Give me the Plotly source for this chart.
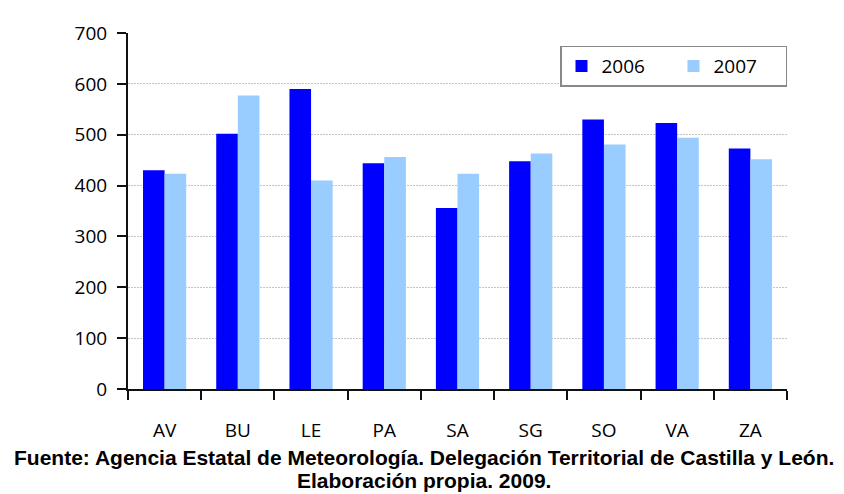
import plotly.graph_objects as go

categories = ["AV", "BU", "LE", "PA", "SA", "SG", "SO", "VA", "ZA"]
values_2006 = [430, 502, 590, 444, 356, 448, 530, 523, 473]
values_2007 = [423, 577, 410, 456, 423, 463, 481, 494, 452]
y_ticks = [0, 100, 200, 300, 400, 500, 600, 700]

tick_font = dict(family="Open Sans", size=19, color="#000000")

fig = go.Figure()
fig.add_trace(go.Bar(name="2006", x=categories, y=values_2006,
                     marker=dict(color="#0000FF", line=dict(width=0))))
fig.add_trace(go.Bar(name="2007", x=categories, y=values_2007,
                     marker=dict(color="#99CCFF", line=dict(width=0))))

# page body has an 8px margin, so the figure is 8px smaller than the window
OFF = 8
W, H = 844 - OFF, 494 - OFF
ml, mt = 128 - OFF, 24 - OFF
mr = W - (787 - OFF)
mb = H - (389 - OFF)
plot_w = W - ml - mr
plot_h = H - mt - mb
plot_bottom = H - mb


def px_x(page_x):
    return (page_x - OFF - ml) / plot_w


def px_y(page_y):
    return (plot_bottom - (page_y - OFF)) / plot_h


fig.update_layout(
    width=W, height=H,
    margin=dict(l=ml, r=mr, t=mt, b=mb, pad=0),
    paper_bgcolor="white", plot_bgcolor="white",
    barmode="group", bargap=0.41, bargroupgap=0,
    font=tick_font,
    showlegend=True,
    legend=dict(
        orientation="h",
        x=1.0, xanchor="right", y=px_y(37), yanchor="top",
        bgcolor="white", bordercolor="#888888", borderwidth=1.5,
        font=tick_font, entrywidth=67, entrywidthmode="pixels",
        itemsizing="constant",
    ),
    xaxis=dict(
        type="category",
        showline=True, linecolor="#111111", linewidth=2,
        ticks="outside", tickson="boundaries", ticklen=9, tickwidth=2,
        tickcolor="#111111",
        showgrid=False, zeroline=False,
        tickfont=tick_font, ticklabelstandoff=23,
    ),
    yaxis=dict(
        range=[0, 700], tickvals=y_ticks,
        showline=True, linecolor="#111111", linewidth=2,
        ticks="outside", ticklen=9, tickwidth=2, tickcolor="#111111",
        showgrid=True, gridcolor="#C4C4C4", griddash="2px,1px", gridwidth=1,
        zeroline=False,
        tickfont=tick_font, ticklabelstandoff=6,
    ),
    annotations=[
        dict(
            text="Fuente: Agencia Estatal de Meteorología. Delegación Territorial de Castilla y León.",
            xref="paper", yref="paper",
            x=px_x(424), y=px_y(459),
            xanchor="center", yanchor="middle", showarrow=False,
            font=dict(family="Liberation Sans", size=21, color="#000000", weight="bold"),
        ),
        dict(
            text="Elaboración propia. 2009.",
            xref="paper", yref="paper",
            x=px_x(424), y=px_y(482.5),
            xanchor="center", yanchor="middle", showarrow=False,
            font=dict(family="Liberation Sans", size=21, color="#000000", weight="bold"),
        ),
    ],
)

fig.write_html("out.html")
